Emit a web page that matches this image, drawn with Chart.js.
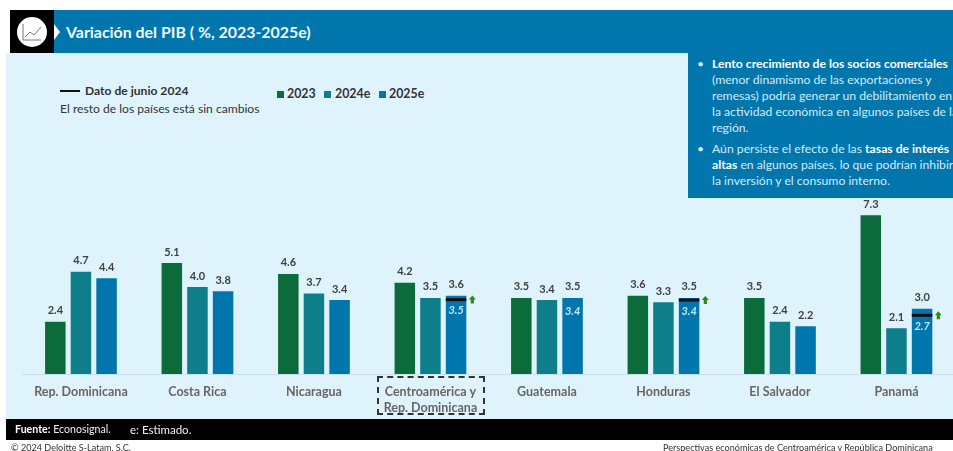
<!DOCTYPE html>
<html lang="es">
<head>
<meta charset="utf-8">
<title>Variación del PIB</title>
<script src="https://cdn.jsdelivr.net/npm/chart.js@4"></script>
<style>
  html, body { margin: 0; padding: 0; background: #fff; }
  body { width: 953px; height: 451px; overflow: hidden; position: relative; font-family: Lato, sans-serif; color: #333; }
  .abs { position: absolute; white-space: nowrap; }
  #panel { left: 6px; top: 53px; width: 947px; height: 366px; background: #dff3fd; }
  #header { left: 10px; top: 10px; width: 943px; height: 43px; background: #0076ad; }
  #iconBox { left: 10px; top: 10px; width: 44px; height: 43px; background: #000; }
  #iconArrow { left: 54px; top: 24px; width: 0; height: 0; border-left: 6px solid #fff; border-top: 8px solid transparent; border-bottom: 8px solid transparent; }
  #title { left: 66px; top: 21px; font-size: 15.9px; line-height: 22px; font-weight: 700; color: #f2f9fc; }
  #callout { left: 688px; top: 53px; width: 265px; height: 145px; background: #0076ad; color: #d5ebf6; font-size: 12.2px; line-height: 16px; overflow: hidden; }
  #callout .txt { position: absolute; left: 24px; white-space: nowrap; }
  #callout .dot { position: absolute; left: 9px; }
  #callout b { color: #fff; }
  #chartWrap { left: 0; top: 0; width: 960px; height: 451px; }
  .note { font-size: 12.1px; line-height: 16px; }
  .leg { font-size: 12.4px; line-height: 16px; font-weight: 700; top: 86px; }
  .sw { width: 7px; height: 7px; top: 91px; }
  #dashBox { left: 377px; top: 376px; width: 104px; height: 35px; border: 2px dashed #333; }
  #footer { left: 6px; top: 419px; width: 947px; height: 21px; background: #000; color: #eee; font-size: 11.5px; line-height: 21px; }
  .small { font-size: 9.1px; line-height: 10px; top: 443px; color: #333; }
</style>
</head>
<body>
<div class="abs" id="panel"></div>
<div class="abs" id="header"></div>
<div class="abs" id="iconBox">
  <svg width="44" height="43" viewBox="0 0 44 43">
    <circle cx="22" cy="22" r="15" fill="#fff"/>
    <path d="M13 14v16h18" fill="none" stroke="#777" stroke-width="1"/>
    <path d="M15 27l5-5 4 3 7-8" fill="none" stroke="#777" stroke-width="1"/>
  </svg>
</div>
<div class="abs" id="iconArrow"></div>
<div class="abs" id="title">Variación del PIB ( %, 2023-2025e)</div>

<div class="abs" style="left:60px;top:90px;width:20px;height:2px;background:#111"></div>
<div class="abs note" style="left:85px;top:83px;font-weight:700">Dato de junio 2024</div>
<div class="abs note" style="left:60px;top:101px">El resto de los países está sin cambios</div>

<div class="abs sw" style="left:277px;background:#0b6b3a"></div>
<div class="abs leg" style="left:287px">2023</div>
<div class="abs sw" style="left:324px;background:#0e7f8a"></div>
<div class="abs leg" style="left:335px">2024e</div>
<div class="abs sw" style="left:379px;background:#0076ad"></div>
<div class="abs leg" style="left:389px">2025e</div>

<div class="abs" id="callout">
  <div class="dot" style="top:3px">•</div>
  <div class="txt" style="top:3px"><b>Lento crecimiento de los socios comerciales</b><br>(menor dinamismo de las exportaciones y<br>remesas) podría generar un debilitamiento en<br>la actividad económica en algunos países de la<br>región.</div>
  <div class="dot" style="top:88px">•</div>
  <div class="txt" style="top:88px">Aún persiste el efecto de las <b>tasas de interés</b><br><b>altas</b> en algunos países, lo que podrían inhibir<br>la inversión y el consumo interno.</div>
</div>

<div class="abs" id="chartWrap"><canvas id="pibChart" width="960" height="451"></canvas></div>
<div class="abs" id="dashBox"></div>

<div class="abs" id="footer"><span style="position:absolute;left:9px;font-size:10.6px"><b style="color:#fff">Fuente:</b> Econosignal.</span><span style="position:absolute;left:124px">e: Estimado.</span></div>
<div class="abs small" style="left:11px">© 2024 Deloitte S-Latam, S.C.</div>
<div class="abs small" style="left:663px">Perspectivas económicas de Centroamérica y República Dominicana</div>

<script>
const categories = ["Rep. Dominicana", "Costa Rica", "Nicaragua", ["Centroamérica y", "Rep. Dominicana"], "Guatemala", "Honduras", "El Salvador", "Panamá"];
const seriesNames = ["2023", "2024e", "2025e"];
const values2023 = [2.4, 5.1, 4.6, 4.2, 3.5, 3.6, 3.5, 7.3];
const values2024 = [4.7, 4.0, 3.7, 3.5, 3.4, 3.3, 2.4, 2.1];
const values2025 = [4.4, 3.8, 3.4, 3.6, 3.5, 3.5, 2.2, 3.0];
// dato de junio 2024: where the black mark sits, and the number printed under it
const juneMark = [null, null, null, 3.42, null, 3.4, null, 2.7];
const juneText = [null, null, null, "3.5", null, "3.4", null, "2.7"];
// guatemala prints 3.4 inside the bar but has no black mark or arrow
const insideOnly = [null, null, null, null, "3.4", null, null, null];
const colors = ["#0b6b3a", "#0e7f8a", "#0076ad"];

const barExtras = {
  id: "barExtras",
  afterDatasetsDraw(chart) {
    const ctx = chart.ctx;
    const y = chart.scales.y;
    ctx.save();
    ctx.textAlign = "center";
    ctx.textBaseline = "middle";

    // etiquetas de valor
    ctx.font = "700 11px Lato";
    ctx.fillStyle = "#404040";
    chart.data.datasets.forEach((ds, d) => {
      chart.getDatasetMeta(d).data.forEach((bar, i) => {
        ctx.fillText(ds.data[i].toFixed(1), bar.x, bar.y - 11);
      });
    });

    // marca de junio, numero interior y flecha
    const last = chart.getDatasetMeta(2).data;
    last.forEach((bar, i) => {
      const left = bar.x - bar.width / 2;
      const right = bar.x + bar.width / 2;
      if (juneMark[i] !== null) {
        const my = y.getPixelForValue(juneMark[i]);
        ctx.fillStyle = "#0a0a14";
        ctx.fillRect(left, my - 1.5, bar.width, 3);
        ctx.font = "italic 700 11px Lato";
        ctx.fillStyle = "#bfe6f7";
        ctx.fillText(juneText[i], bar.x, my + 11);
        const ax = right + 6;
        ctx.fillStyle = "#2e8b12";
        ctx.beginPath();
        ctx.moveTo(ax, my - 4);
        ctx.lineTo(ax + 3.5, my);
        ctx.lineTo(ax + 1.6, my);
        ctx.lineTo(ax + 1.6, my + 4);
        ctx.lineTo(ax - 1.6, my + 4);
        ctx.lineTo(ax - 1.6, my);
        ctx.lineTo(ax - 3.5, my);
        ctx.closePath();
        ctx.fill();
      }
      if (insideOnly[i] !== null) {
        ctx.font = "italic 700 11px Lato";
        ctx.fillStyle = "#bfe6f7";
        ctx.fillText(insideOnly[i], bar.x, y.getPixelForValue(3.4) + 11);
      }
    });
    ctx.restore();
  }
};

new Chart(document.getElementById("pibChart"), {
  type: "bar",
  data: {
    labels: categories,
    datasets: [
      { label: seriesNames[0], data: values2023, backgroundColor: colors[0] },
      { label: seriesNames[1], data: values2024, backgroundColor: colors[1] },
      { label: seriesNames[2], data: values2025, backgroundColor: colors[2] }
    ]
  },
  options: {
    responsive: false,
    animation: false,
    categoryPercentage: 0.66,
    barPercentage: 0.8,
    layout: { padding: { top: 200, left: 22.7, right: 5.3, bottom: 17 } },
    plugins: { legend: { display: false }, tooltip: { enabled: false } },
    scales: {
      x: {
        grid: { display: false },
        border: { color: "#c9dfe9" },
        ticks: { color: "#666", font: { family: "Lato", size: 12.5, weight: "700", lineHeight: 1.28 }, padding: 2, maxRotation: 0, autoSkip: false },
        afterFit: (s) => { s.height = 60; }
      },
      y: { display: false, min: 0, max: 8 }
    }
  },
  plugins: [barExtras]
});
</script>
</body>
</html>
